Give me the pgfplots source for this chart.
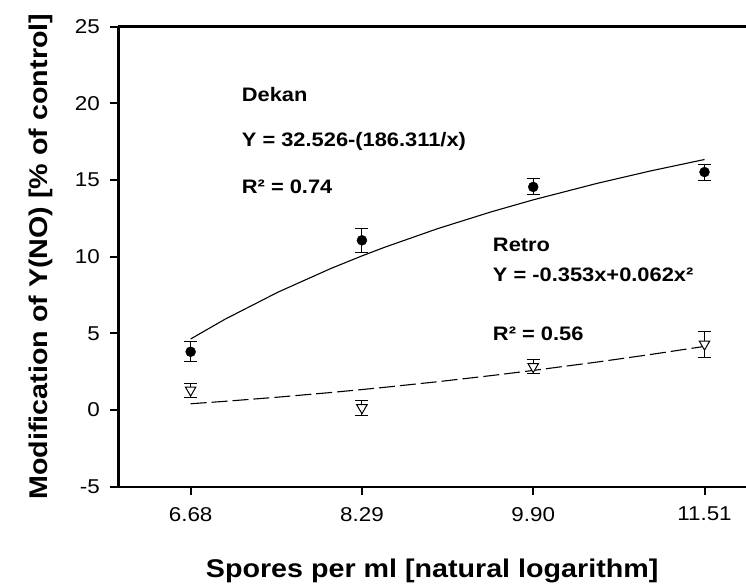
\documentclass[border=0pt]{standalone}
\usepackage{fontspec}
\setmainfont{Liberation Sans}[FakeStretch=1.12]
\usepackage{pgfplots}
\pgfplotsset{compat=1.18}
\pgfplotstableread{
x y e
6.68 3.80 0.64
8.29 11.07 0.80
9.90 14.55 0.52
11.51 15.52 0.52
}\dekan
\pgfplotstableread{
x y e
6.68 1.30 0.45
8.29 0.15 0.49
9.90 2.83 0.48
11.51 4.30 0.85
}\retro
\pgfplotstableread{
x y
6.68 4.635
7.0 5.910
7.5 7.685
8.0 9.237
8.29 10.052
8.5 10.607
9.0 11.825
9.5 12.914
9.9 13.707
10.5 14.782
11.0 15.589
11.51 16.339
}\dekanfit
\pgfplotstableread{
x y
6.68 0.409
7.0 0.567
7.5 0.840
8.0 1.144
8.29 1.335
8.5 1.479
9.0 1.845
9.5 2.242
9.9 2.582
10.5 3.129
11.0 3.619
11.51 4.151
}\retrofit
\begin{document}
\begin{tikzpicture}
\useasboundingbox (0,0) rectangle (746pt,586pt);
\begin{axis}[
  at={(118.3pt,99.3pt)}, anchor=south west,
  scale only axis, width=627.7pt, height=460pt,
  xmin=6, xmax=11.9, ymin=-5, ymax=25,
  axis x line*=bottom, axis y line*=left,
  axis line style={line width=2.4pt, -},
  xtick={6.68,8.29,9.90,11.51},
  xticklabels={6.68,8.29,9.90,11.51},
  ytick={-5,0,5,10,15,20,25},
  tick align=outside, major tick length=8pt,
  tick style={line width=2pt, black},
  /pgf/number format/assume math mode=true,
  tick label style={font=\fontsize{20}{24}\selectfont},
  xticklabel style={yshift=-9pt},
  yticklabel style={xshift=-7pt},
  xlabel={Spores per ml [natural logarithm]},
  ylabel={Modification of Y(NO) [\% of control]},
  label style={font=\fontsize{25.6}{30}\selectfont\bfseries},
  xlabel style={at={(axis description cs:0.5,-0.1833)}, anchor=center},
  ylabel style={at={(axis description cs:-0.1231,0.5)}, anchor=center},
  clip=false,
]
\draw[line width=2.4pt] (rel axis cs:0,1) -- (rel axis cs:1,1);
\addplot[black, line width=1.1pt, no marks] table[x=x,y=y] {\dekanfit};
\addplot[black, line width=1.1pt, no marks, dash pattern=on 16pt off 5pt] table[x=x,y=y] {\retrofit};
\addplot[black, only marks, mark=*, mark size=5pt,
  error bars/.cd, y dir=both, y explicit,
  error bar style={line width=1pt, black},
  error mark options={rotate=90, mark size=6.5pt, line width=1pt, black}]
  table[x=x, y=y, y error=e] {\dekan};
\addplot[black, only marks, mark=triangle*, mark size=6pt,
  mark options={rotate=180, fill=white, line width=1pt},
  error bars/.cd, y dir=both, y explicit,
  error bar style={line width=1pt, black},
  error mark options={rotate=90, mark size=6.5pt, line width=1pt, black}]
  table[x=x, y=y, y error=e] {\retro};
\begin{scope}[every node/.style={anchor=base west, inner sep=0pt, font=\fontsize{19.5}{23}\selectfont\bfseries}]
\node at (axis cs:7.16,20.11) {Dekan};
\node at (axis cs:7.16,17.18) {Y = 32.526-(186.311/x)};
\node at (axis cs:7.16,14.14) {R² = 0.74};
\node at (axis cs:9.52,10.33) {Retro};
\node at (axis cs:9.52,8.37) {Y = -0.353x+0.062x²};
\node at (axis cs:9.52,4.55) {R² = 0.56};
\end{scope}
\end{axis}
\end{tikzpicture}
\end{document}
